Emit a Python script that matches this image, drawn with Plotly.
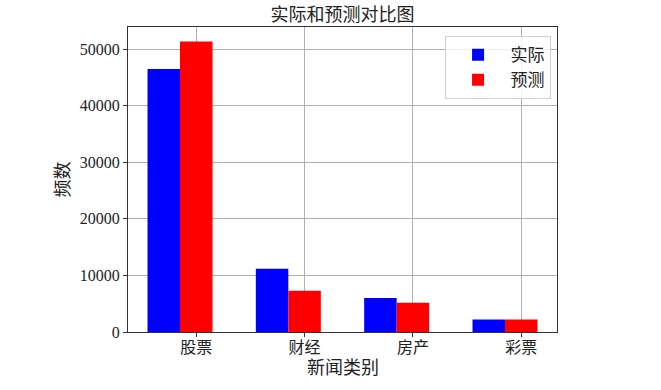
import plotly.graph_objects as go

categories = ["股票", "财经", "房产", "彩票"]
actual = [46450, 11180, 6000, 2230]
predicted = [51320, 7300, 5180, 2230]
series_names = ["实际", "预测"]

bar_w = 0.3
idx = list(range(len(categories)))
x_actual = [i for i in idx]
x_pred = [i + bar_w for i in idx]
tick_pos = [i + bar_w for i in idx]

CJK = "Noto Sans CJK SC"
TXT = "#222"
fig = go.Figure()
fig.add_trace(go.Bar(x=x_actual, y=actual, width=bar_w, name=series_names[0],
                     marker=dict(color="#0000ff", line=dict(width=0))))
fig.add_trace(go.Bar(x=x_pred, y=predicted, width=bar_w, name=series_names[1],
                     marker=dict(color="#ff0000", line=dict(width=0))))

ymax = max(max(actual), max(predicted)) * 1.05
fig.update_layout(
    width=661, height=390,
    margin=dict(l=128, r=104, t=27, b=58),
    paper_bgcolor="white", plot_bgcolor="white",
    barmode="overlay",
    font=dict(family=CJK + ", Liberation Serif", color=TXT, size=14),
    title=dict(text="实际和预测对比图", x=0.518, xanchor="center", y=0.962, yanchor="middle",
               font=dict(size=18, family=CJK, color=TXT)),
    legend=dict(x=0.985, y=0.97, xanchor="right", yanchor="top",
                bordercolor="#d0d0d0", borderwidth=1, bgcolor="rgba(255,255,255,0.8)",
                font=dict(size=17, family=CJK, color=TXT), itemwidth=55,
                tracegroupgap=4),
    xaxis=dict(range=[-0.33, 3.63], tickvals=tick_pos, ticktext=categories,
               showgrid=True, gridcolor="#b0b0b0", gridwidth=1,
               showline=True, linecolor="#333", linewidth=1, mirror=True,
               ticks="outside", ticklen=4, tickcolor="#333",
               ticklabelstandoff=-3,
               tickfont=dict(size=16, family=CJK, color=TXT), zeroline=False),
    yaxis=dict(range=[0, ymax], tickvals=[0, 10000, 20000, 30000, 40000, 50000],
               tickformat="d",
               showgrid=True, gridcolor="#b0b0b0", gridwidth=1,
               showline=True, linecolor="#333", linewidth=1, mirror=True,
               ticks="outside", ticklen=4, tickcolor="#333",
               tickfont=dict(size=16, family="Liberation Serif", color=TXT), zeroline=False,
               title=dict(text="频数", font=dict(size=18, family=CJK, color=TXT), standoff=5)),
    annotations=[dict(text="新闻类别", xref="paper", yref="paper", x=0.5, y=-0.113,
                      xanchor="center", yanchor="middle", showarrow=False,
                      font=dict(size=18, family=CJK, color=TXT))],
)
fig.write_html("out.html")
